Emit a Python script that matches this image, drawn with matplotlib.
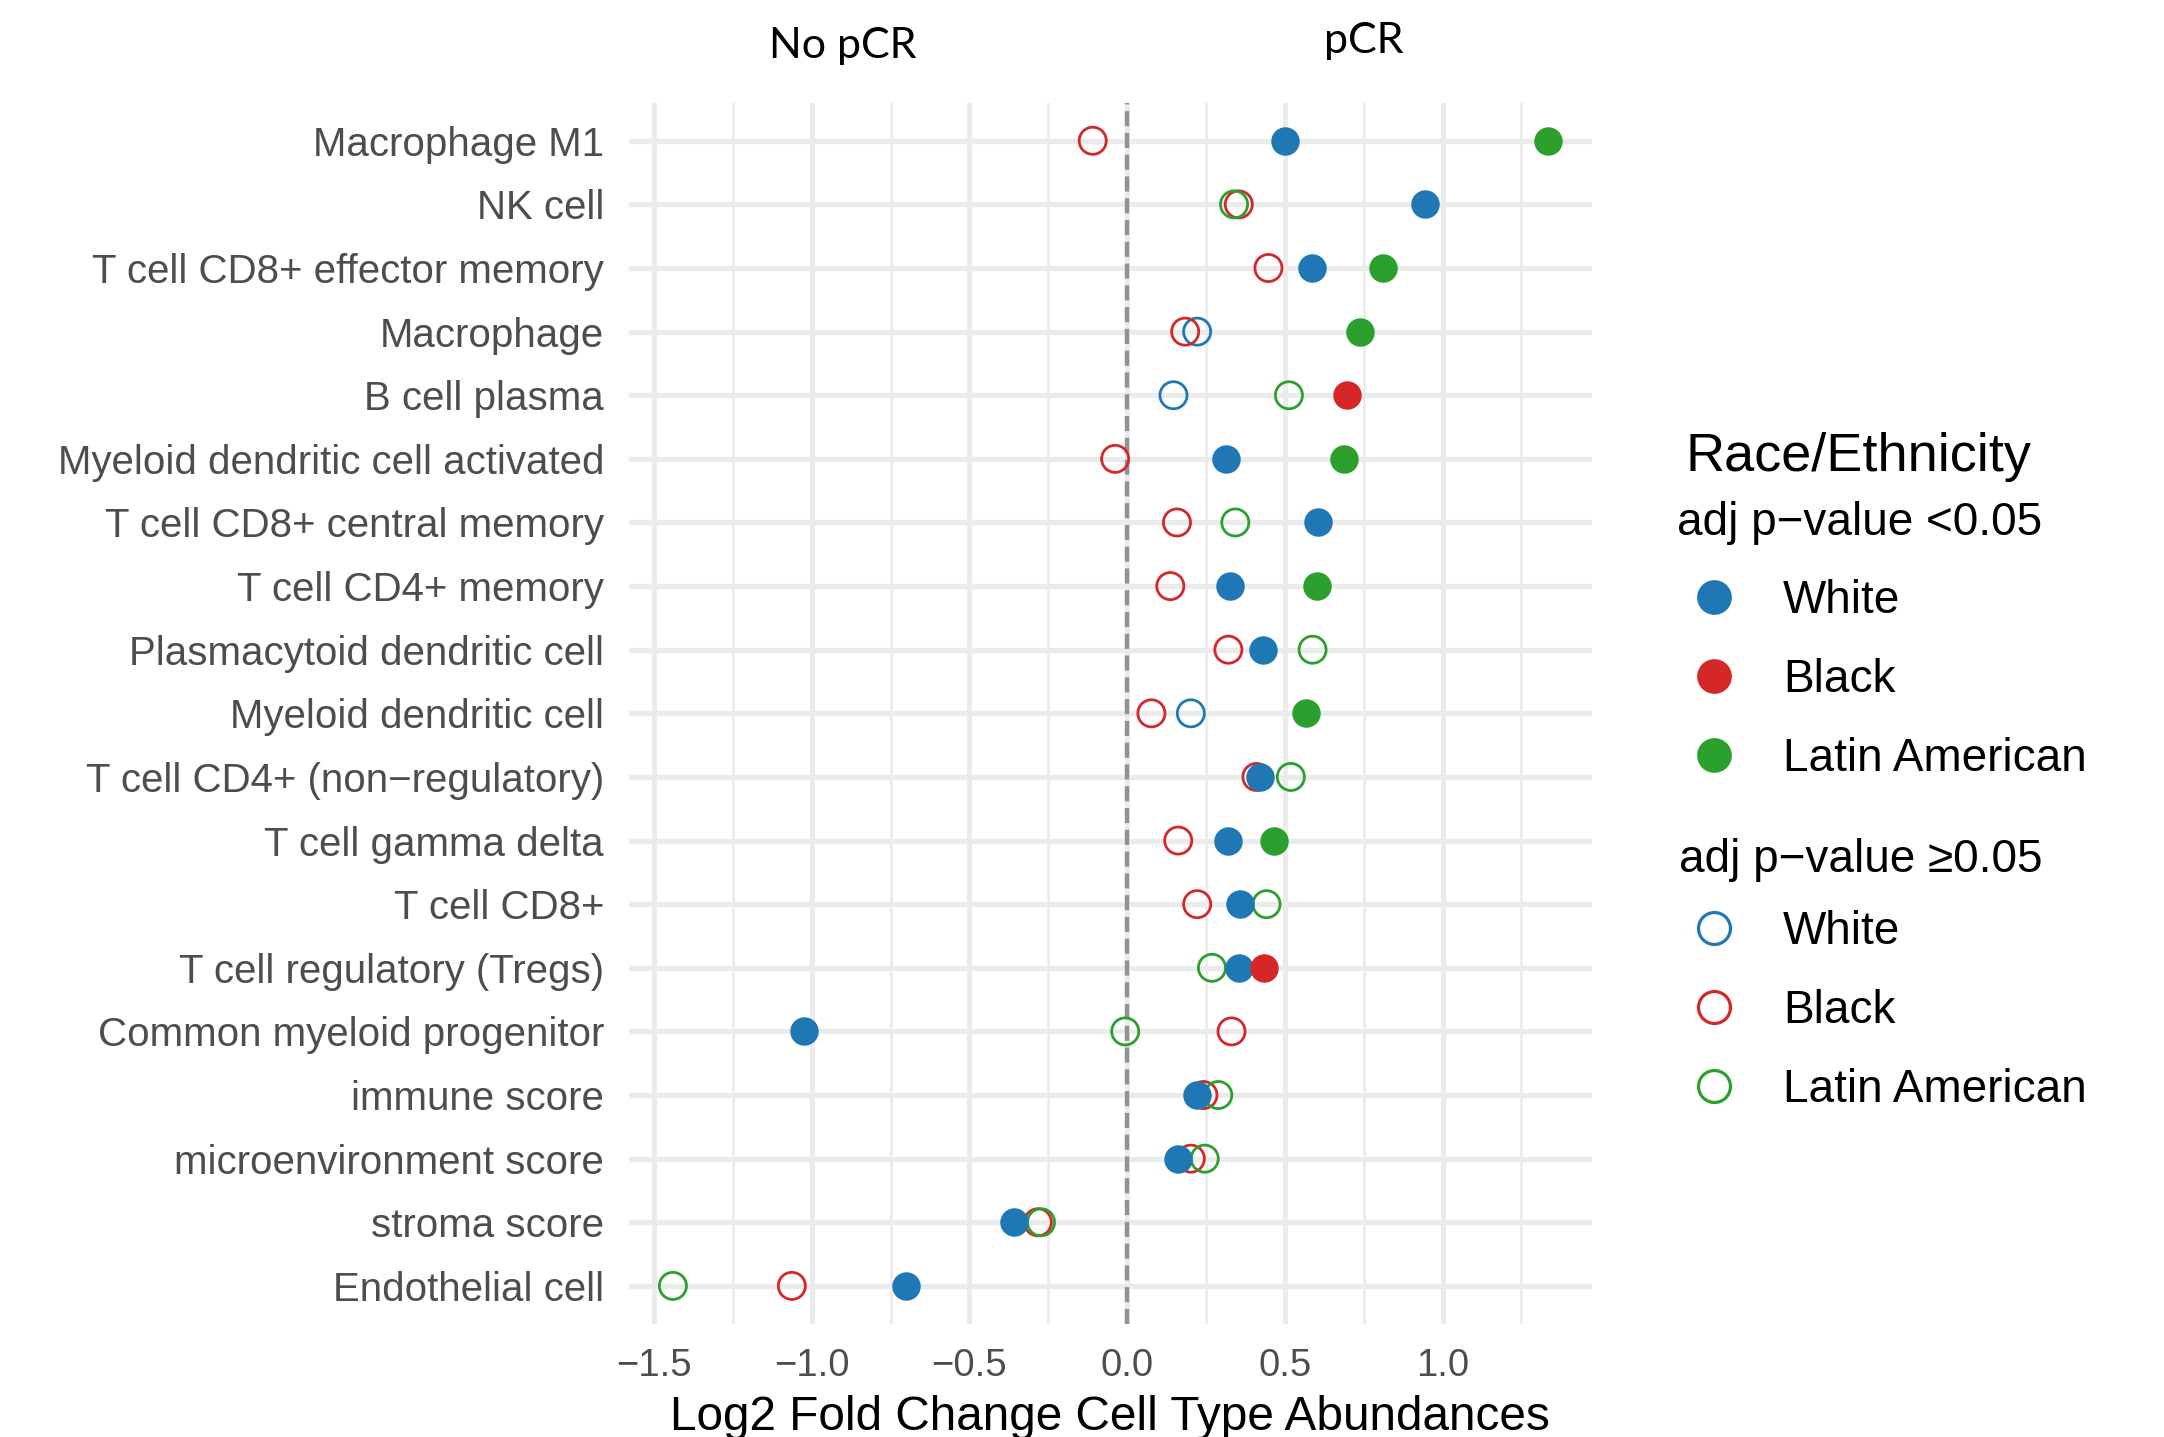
import numpy as np
import matplotlib
matplotlib.use("Agg")
import matplotlib.pyplot as plt
from matplotlib.lines import Line2D

plt.rcParams['font.family'] = ['Liberation Sans', 'DejaVu Sans']

cell_types = [
    "Macrophage M1", "NK cell", "T cell CD8+ effector memory", "Macrophage",
    "B cell plasma", "Myeloid dendritic cell activated", "T cell CD8+ central memory",
    "T cell CD4+ memory", "Plasmacytoid dendritic cell", "Myeloid dendritic cell",
    "T cell CD4+ (non\u2212regulatory)", "T cell gamma delta", "T cell CD8+",
    "T cell regulatory (Tregs)", "Common myeloid progenitor", "immune score",
    "microenvironment score", "stroma score", "Endothelial cell",
]

groups = ["White", "Black", "Latin American"]
group_colors = ["#1F77B4", "#D62728", "#2CA02C"]

white_lfc = [0.499, 0.943, 0.586, 0.222, 0.147, 0.313, 0.606, 0.325, 0.432, 0.202,
             0.422, 0.321, 0.358, 0.354, -1.024, 0.222, 0.160, -0.360, -0.701]
white_sig = [1, 1, 1, 0, 0, 1, 1, 1, 1, 0, 1, 1, 1, 1, 1, 1, 1, 1, 1]

black_lfc = [-0.109, 0.354, 0.448, 0.184, 0.697, -0.038, 0.158, 0.137, 0.321, 0.077,
             0.410, 0.162, 0.222, 0.434, 0.331, 0.242, 0.202, -0.283, -1.063]
black_sig = [0, 0, 0, 0, 1, 0, 0, 0, 0, 0, 0, 0, 0, 1, 0, 0, 0, 0, 0]

latin_lfc = [1.335, 0.339, 0.810, 0.739, 0.513, 0.689, 0.343, 0.602, 0.588, 0.568,
             0.519, 0.467, 0.442, 0.269, -0.006, 0.289, 0.246, -0.273, -1.440]
latin_sig = [1, 0, 1, 1, 0, 1, 0, 1, 0, 1, 0, 1, 0, 0, 0, 0, 0, 0, 0]

lfc = [white_lfc, black_lfc, latin_lfc]
sig = [white_sig, black_sig, latin_sig]

x_ticks = [-1.5, -1.0, -0.5, 0.0, 0.5, 1.0]
x_minor = [-1.25, -0.75, -0.25, 0.25, 0.75, 1.25]

fig = plt.figure(figsize=(21.64, 14.37), dpi=100)
ax = fig.add_axes([0.2907, 0.0786, 0.4450, 0.8500])

grid_col = "#EBEBEB"
ypos = np.arange(len(cell_types))
for y in ypos:
    ax.axhline(y, color=grid_col, lw=3.8, zorder=0)
for x in x_ticks:
    ax.axvline(x, color=grid_col, lw=3.6, zorder=0)
for x in x_minor:
    ax.axvline(x, color=grid_col, lw=1.9, zorder=0)

# reference line at zero
ax.axvline(0, color="#929292", lw=3.2, linestyle=(0, (3.4, 1.5)), zorder=1)

# hollow circles (adj p >= 0.05) first, filled ones on top
for vals, flags, col in zip(lfc, sig, group_colors):
    v = np.array(vals)
    f = np.array(flags, dtype=bool)
    ax.scatter(v[~f], ypos[~f], s=19.5 ** 2, facecolors="none", edgecolors=col,
               linewidths=2.0, zorder=3)
for vals, flags, col in zip(lfc, sig, group_colors):
    v = np.array(vals)
    f = np.array(flags, dtype=bool)
    ax.scatter(v[f], ypos[f], s=20.5 ** 2, color=col, linewidths=0, zorder=4)

ax.set_xlim(-1.579, 1.474)
ax.set_ylim(len(cell_types) - 0.4, -0.6)
ax.set_yticks(ypos)
ax.set_yticklabels(cell_types)
ax.set_xticks(x_ticks)
ax.set_xticklabels([f"{t:.1f}".replace("-", "\u2212") for t in x_ticks])
ax.tick_params(axis="y", length=0, pad=18, labelsize=29, labelcolor="#4D4D4D")
ax.tick_params(axis="x", length=0, pad=17.5, labelsize=27.5, labelcolor="#4D4D4D")
for s in ax.spines.values():
    s.set_visible(False)

fig.text(0.513, 1 - 1430 / 1437, "Log2 Fold Change Cell Type Abundances", ha="center",
         va="baseline", fontsize=34.4, color="black")

# group labels at the top
top_font = ['Liberation Sans Narrow', 'Lato', 'DejaVu Sans']
fig.text(843 / 2164, 1 - 58 / 1437, "No pCR", ha="center", va="baseline",
         fontsize=31, family=top_font)
fig.text(1364 / 2164, 1 - 53 / 1437, "pCR", ha="center", va="baseline",
         fontsize=31, family=top_font)

# legend
fig.text(1685 / 2164, 1 - 471 / 1437, "Race/Ethnicity", ha="left", va="baseline",
         fontsize=39)
fig.text(1677 / 2164, 1 - 535 / 1437, "adj p\u2212value <0.05", ha="left",
         va="baseline", fontsize=33)
fig.text(1679 / 2164, 1 - 872 / 1437, "adj p\u2212value \u22650.05", ha="left",
         va="baseline", fontsize=33)

filled_handles = [Line2D([], [], ls="none", marker="o", markersize=25, color=c,
                         markeredgewidth=0) for c in group_colors]
open_handles = [Line2D([], [], ls="none", marker="o", markersize=23,
                       markerfacecolor="none", markeredgecolor=c,
                       markeredgewidth=2.3) for c in group_colors]

leg_kw = dict(loc="center left", frameon=False, fontsize=33, handlelength=1.0,
              handletextpad=1.01, labelspacing=0.76, borderpad=0, borderaxespad=0)
fig.legend(filled_handles, groups, bbox_to_anchor=(0.7815, 1 - 680 / 1437), **leg_kw)
fig.legend(open_handles, groups, bbox_to_anchor=(0.7815, 1 - 1011 / 1437), **leg_kw)

fig.savefig("out.png", dpi=100, facecolor="white")
